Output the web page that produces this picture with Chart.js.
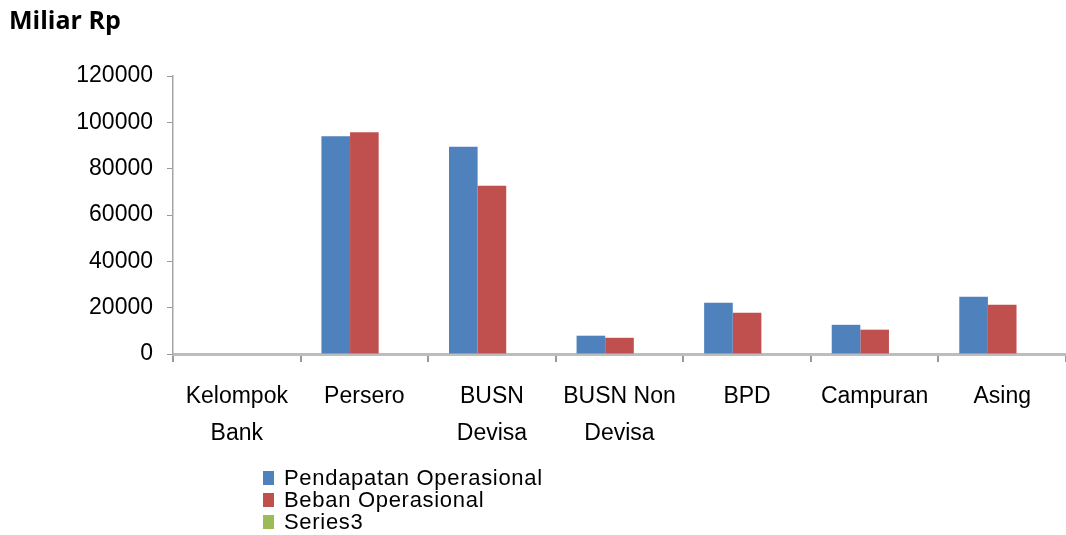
<!DOCTYPE html>
<html>
<head>
<meta charset="utf-8">
<script src="https://cdn.jsdelivr.net/npm/chart.js@4"></script>
<style>
  html, body { margin: 0; padding: 0; background: #ffffff; }
  #wrap { width: 1066px; height: 535px; position: relative; }
</style>
</head>
<body>
<div id="wrap"><canvas id="c" width="1066" height="535"></canvas></div>
<script>
const categories = [["Kelompok", "Bank"], "Persero", ["BUSN", "Devisa"], ["BUSN Non", "Devisa"], "BPD", "Campuran", "Asing"];
const seriesNames = ["Pendapatan Operasional", "Beban Operasional", "Series3"];
const pendapatan = [null, 94000, 89500, 7900, 22100, 12600, 24700];
const beban = [null, 95700, 72600, 7000, 17800, 10500, 21300];
const series3 = [null, 0, 0, 0, 0, 0, 0];
const yTicks = [0, 20000, 40000, 60000, 80000, 100000, 120000];
const titleText = "Miliar Rp";
const colors = ["#4F81BD", "#C0504D", "#9BBB59"];

const FONT = "'Liberation Sans', Arial, sans-serif";

const decorPlugin = {
  id: 'decor',
  afterDraw(chart) {
    const ctx = chart.ctx;
    ctx.save();
    // title
    ctx.font = "bold 25px 'Open Sans', " + FONT;
    ctx.fillStyle = '#000000';
    ctx.textBaseline = 'middle';
    ctx.textAlign = 'left';
    ctx.fillText(titleText, 9, 22);
    // legend
    ctx.font = "22px " + FONT;
    if ('letterSpacing' in ctx) ctx.letterSpacing = '0.7px';
    chart.data.datasets.forEach((ds, i) => {
      const cy = 478 + i * 22;
      ctx.fillStyle = ds.backgroundColor;
      ctx.fillRect(263, cy - 7, 11, 14);
      ctx.fillStyle = '#000000';
      ctx.fillText(ds.label, 284, cy + 1);
    });
    ctx.restore();
  }
};

new Chart(document.getElementById('c'), {
  type: 'bar',
  data: {
    labels: categories,
    datasets: [
      { label: seriesNames[0], data: pendapatan, backgroundColor: colors[0] },
      { label: seriesNames[1], data: beban, backgroundColor: colors[1] },
      { label: seriesNames[2], data: series3, backgroundColor: colors[2] }
    ]
  },
  options: {
    responsive: false,
    animation: false,
    layout: { padding: { left: 0, right: 0, top: 76, bottom: 89 } },
    datasets: { bar: { categoryPercentage: 0.673, barPercentage: 1.0, borderWidth: 0 } },
    plugins: {
      legend: { display: false },
      tooltip: { enabled: false },
      title: { display: false }
    },
    scales: {
      x: {
        offset: true,
        afterFit(scale) { scale.height = 92; },
        grid: { display: true, drawOnChartArea: false, drawTicks: true, tickLength: 8, color: '#9a9a9a', lineWidth: 2, offset: true },
        border: { display: true, color: '#bdbdbd', width: 3 },
        ticks: {
          color: '#000000',
          font: { family: FONT, size: 23, lineHeight: 1.6 },
          padding: 16,
          maxRotation: 0,
          autoSkip: false
        }
      },
      y: {
        min: 0,
        max: 120000,
        afterFit(scale) { scale.width = 173; },
        afterBuildTicks(scale) { scale.ticks = yTicks.map(v => ({ value: v })); },
        grid: { display: true, drawOnChartArea: false, drawTicks: true, tickLength: 6, color: '#9a9a9a', lineWidth: 1 },
        border: { display: true, color: '#a6a6a6', width: 1.5 },
        ticks: {
          color: '#000000',
          font: { family: FONT, size: 23 },
          padding: 14,
          callback: (v) => String(v)
        }
      }
    }
  },
  plugins: [decorPlugin]
});
</script>
</body>
</html>
